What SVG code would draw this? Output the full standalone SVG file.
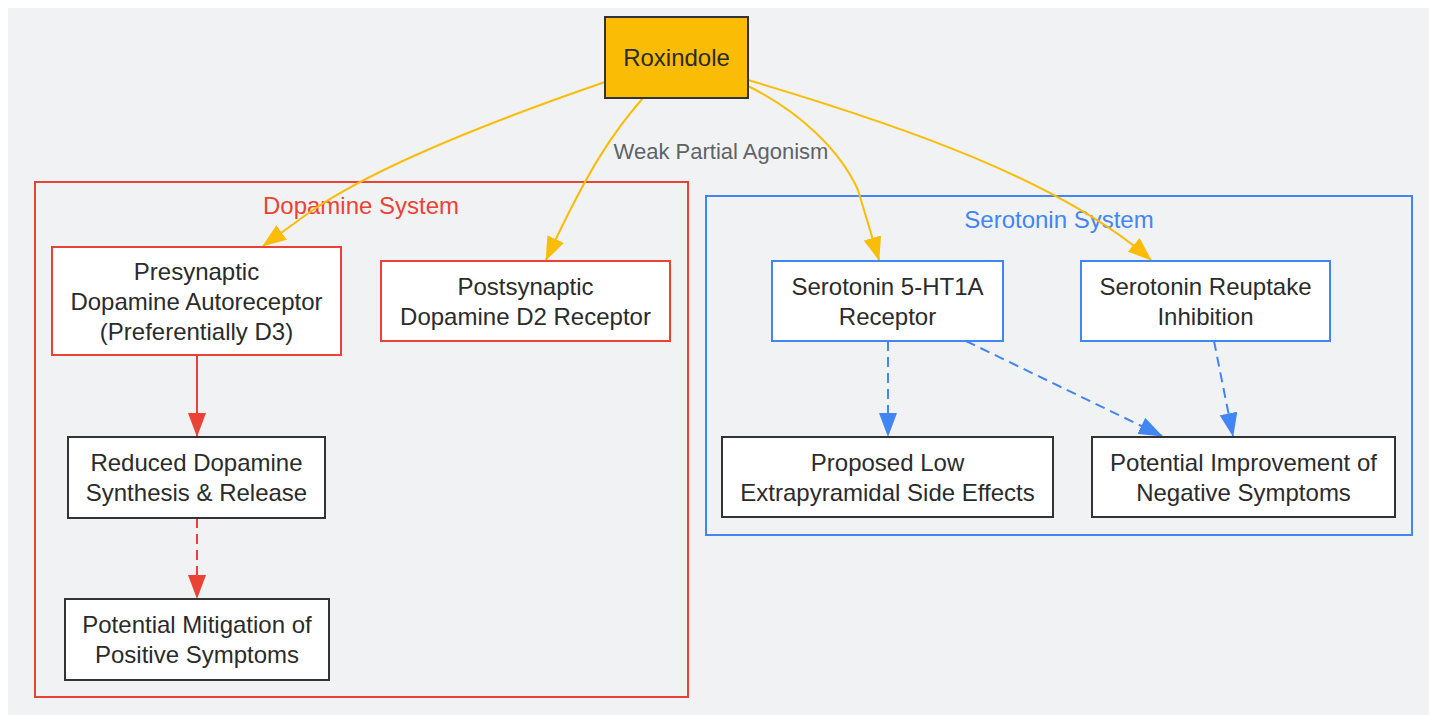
<svg xmlns="http://www.w3.org/2000/svg" width="1429" height="715" viewBox="0 0 1429 715">
<style>
text{font-family:"Liberation Sans",Arial,sans-serif;font-size:24px;fill:#2b2b2b;text-anchor:middle}
.node rect{fill:#fff;stroke-width:2}
.red rect{stroke:#ea4335}
.blue rect{stroke:#4285f4}
.blk rect{stroke:#333}
.cl{fill:none;stroke-width:2}
.e{fill:none;stroke-width:2}
.y{stroke:#fbbc05}
.r{stroke:#ea4335}
.b{stroke:#4285f4}
.d{stroke-dasharray:10 6}
text.lbl{fill:#5f6368;font-size:22px}
</style>
<defs>
<marker id="ay" viewBox="0 0 24 18" refX="23" refY="9" markerWidth="24" markerHeight="18" markerUnits="userSpaceOnUse" orient="auto"><path d="M0,0L24,9L0,18z" fill="#fbbc05"/></marker>
<marker id="ar" viewBox="0 0 24 18" refX="23" refY="9" markerWidth="24" markerHeight="18" markerUnits="userSpaceOnUse" orient="auto"><path d="M0,0L24,9L0,18z" fill="#ea4335"/></marker>
<marker id="ab" viewBox="0 0 24 18" refX="23" refY="9" markerWidth="24" markerHeight="18" markerUnits="userSpaceOnUse" orient="auto"><path d="M0,0L24,9L0,18z" fill="#4285f4"/></marker>
</defs>
<rect x="8" y="8" width="1421" height="707" fill="#f1f2f4"/>
<g id="cluster-dopamine">
<rect class="cl" x="35" y="182" width="653" height="515" stroke="#ea4335"/>
<text x="361" y="214" style="fill:#ea4335">Dopamine System</text>
</g>
<g id="cluster-serotonin">
<rect class="cl" x="706" y="196" width="706" height="339" stroke="#4285f4"/>
<text x="1059" y="228" style="fill:#4285f4">Serotonin System</text>
</g>
<g id="edges">
<path class="e y" d="M605,82 C480,125 370,170 310,212 L263,246" marker-end="url(#ay)"/>
<path class="e y" d="M643,98 C615,130 590,165 546,260" marker-end="url(#ay)"/>
<path class="e y" d="M748,86 C800,112 840,150 858,190 L879,260" marker-end="url(#ay)"/>
<path class="e y" d="M748,80 C900,125 1060,180 1151,260" marker-end="url(#ay)"/>
<path class="e r" d="M197,355 L197,436" marker-end="url(#ar)"/>
<path class="e r d" d="M197,518 L197,598" marker-end="url(#ar)"/>
<path class="e b d" d="M888,341 L888,436" marker-end="url(#ab)"/>
<path class="e b d" d="M966,341 L1162,436" marker-end="url(#ab)"/>
<path class="e b d" d="M1214,341 L1233,436" marker-end="url(#ab)"/>
<text class="lbl" x="721" y="159">Weak Partial Agonism</text>
</g>
<g id="roxindole" class="node">
<rect x="605" y="17" width="143" height="81" style="fill:#fbbc05;stroke:#333"/>
<text x="676.5" y="66">Roxindole</text>
</g>
<g id="presynaptic" class="node red">
<rect x="52" y="247" width="289" height="108"/>
<text x="196.5" y="280">Presynaptic</text>
<text x="196.5" y="310">Dopamine Autoreceptor</text>
<text x="196.5" y="340">(Preferentially D3)</text>
</g>
<g id="postsynaptic" class="node red">
<rect x="381" y="261" width="289" height="80"/>
<text x="525.5" y="295">Postsynaptic</text>
<text x="525.5" y="325">Dopamine D2 Receptor</text>
</g>
<g id="ht1a" class="node blue">
<rect x="772" y="261" width="231" height="80"/>
<text x="887.5" y="295">Serotonin 5-HT1A</text>
<text x="887.5" y="325">Receptor</text>
</g>
<g id="reuptake" class="node blue">
<rect x="1081" y="261" width="249" height="80"/>
<text x="1205.5" y="295">Serotonin Reuptake</text>
<text x="1205.5" y="325">Inhibition</text>
</g>
<g id="reduced" class="node blk">
<rect x="68" y="437" width="257" height="81"/>
<text x="196.5" y="471">Reduced Dopamine</text>
<text x="196.5" y="501">Synthesis &amp; Release</text>
</g>
<g id="mitigation" class="node blk">
<rect x="65" y="599" width="264" height="81"/>
<text x="197" y="633">Potential Mitigation of</text>
<text x="197" y="663">Positive Symptoms</text>
</g>
<g id="proposed" class="node blk">
<rect x="722" y="437" width="331" height="80"/>
<text x="887.5" y="471">Proposed Low</text>
<text x="887.5" y="501">Extrapyramidal Side Effects</text>
</g>
<g id="improvement" class="node blk">
<rect x="1092" y="437" width="303" height="80"/>
<text x="1243.5" y="471">Potential Improvement of</text>
<text x="1243.5" y="501">Negative Symptoms</text>
</g>
</svg>
